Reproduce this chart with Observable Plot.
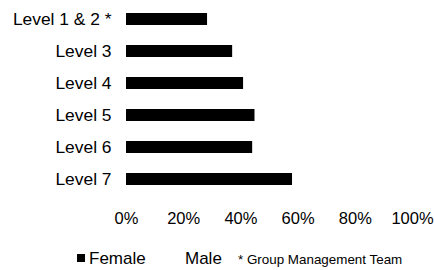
<!DOCTYPE html>
<html>
<head>
<meta charset="utf-8">
<script src="https://cdn.jsdelivr.net/npm/d3@7"></script>
<script src="https://cdn.jsdelivr.net/npm/@observablehq/plot@0.6"></script>
<style>
  html, body { margin: 0; padding: 0; background: #fff; }
  body { width: 434px; height: 270px; overflow: hidden; font-family: "Liberation Sans", Arial, sans-serif; }
  #chart svg { display: block; }
  #legend { position: relative; width: 434px; height: 30px; color: #000; }
  #legend span { position: absolute; white-space: nowrap; line-height: 1; }
  .sw { width: 8px; height: 8px; background: #000; }
</style>
</head>
<body>
<div id="chart"></div>
<div id="legend">
  <span class="sw" style="left:77px; top:14px;"></span>
  <span style="left:89px; top:10px; font-size:17px;">Female</span>
  <span style="left:185px; top:10px; font-size:17px;">Male</span>
  <span style="left:238px; top:13px; font-size:13.4px;">* Group Management Team</span>
</div>
<script>
const levels = ["Level 1 & 2 *", "Level 3", "Level 4", "Level 5", "Level 6", "Level 7"];
const female = [28.4, 37.2, 41.0, 45.0, 44.2, 58.1];
const male = [71.6, 62.8, 59.0, 55.0, 55.8, 41.9];
const tickValues = [0, 20, 40, 60, 80, 100];
const tickLabels = ["0%", "20%", "40%", "60%", "80%", "100%"];

const rows = [];
levels.forEach((l, i) => {
  rows.push({level: l, gender: "Female", value: female[i]});
  rows.push({level: l, gender: "Male", value: male[i]});
});

const chart = Plot.plot({
  width: 434,
  height: 240,
  marginTop: 6,
  marginBottom: 48,
  marginLeft: 126,
  marginRight: 22,
  style: {fontFamily: '"Liberation Sans", Arial, sans-serif', fontSize: "16.5px", color: "#000", background: "#fff"},
  x: {domain: [0, 100], ticks: tickValues, tickFormat: (d) => tickLabels[tickValues.indexOf(d)], tickSize: 0, tickPadding: 20, label: null},
  y: {domain: levels, paddingInner: 0.61, paddingOuter: 0.2, tickSize: 0, tickPadding: 15, label: null},
  color: {domain: ["Female", "Male"], range: ["#000", "#fff"]},
  marks: [
    Plot.barX(rows, Plot.stackX({x: "value", y: "level", fill: "gender", order: ["Female", "Male"]})),
    Plot.axisY({tickSize: 0, tickPadding: 15, fontSize: 17.4, label: null}),
    Plot.axisX({ticks: tickValues, tickFormat: (d) => tickLabels[tickValues.indexOf(d)], tickSize: 0, tickPadding: 20, fontSize: 16.5, label: null})
  ]
});
document.getElementById("chart").appendChild(chart);
</script>
</body>
</html>
